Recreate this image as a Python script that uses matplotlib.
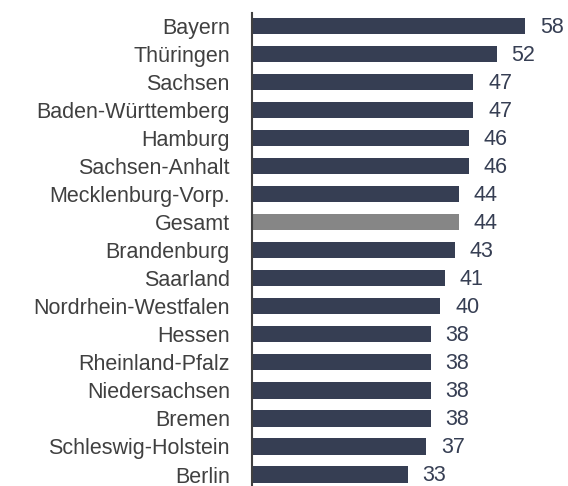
import matplotlib.pyplot as plt

# Bundeslaender und Werte
laender = ["Bayern", "Thüringen", "Sachsen", "Baden-Württemberg", "Hamburg",
           "Sachsen-Anhalt", "Mecklenburg-Vorp.", "Gesamt", "Brandenburg",
           "Saarland", "Nordrhein-Westfalen", "Hessen", "Rheinland-Pfalz",
           "Niedersachsen", "Bremen", "Schleswig-Holstein", "Berlin"]
werte = [58, 52, 47, 47, 46, 46, 44, 44, 43, 41, 40, 38, 38, 38, 38, 37, 33]

plt.rcParams['font.family'] = ['Liberation Sans', 'DejaVu Sans']

fig = plt.figure(figsize=(5.68, 4.86), dpi=100)
ax = fig.add_axes([252 / 568, 0, 311 / 568, 473 / 486])

farben = ['#868686' if l == "Gesamt" else '#363e53' for l in laender]
pos = list(range(len(laender)))
ax.barh(pos, werte, height=0.58, color=farben)

# Werte rechts neben den Balken
for p, w in zip(pos, werte):
    ax.annotate(str(w), (w, p), xytext=(10.5, -1), textcoords='offset points',
                ha='left', va='center', fontsize=15.5, color='#363e53')

ax.set_yticks(pos)
ax.set_yticklabels(laender, fontsize=15.5, color='#404040')
ax.tick_params(axis='y', length=0, pad=16)
ax.set_xticks([])
ax.set_xlim(0, 66)
ax.set_ylim(16.41, -0.46)

for s in ['top', 'right', 'bottom']:
    ax.spines[s].set_visible(False)
ax.spines['left'].set_color('#404040')
ax.spines['left'].set_linewidth(1.5)

fig.savefig('out.png', dpi=100)
